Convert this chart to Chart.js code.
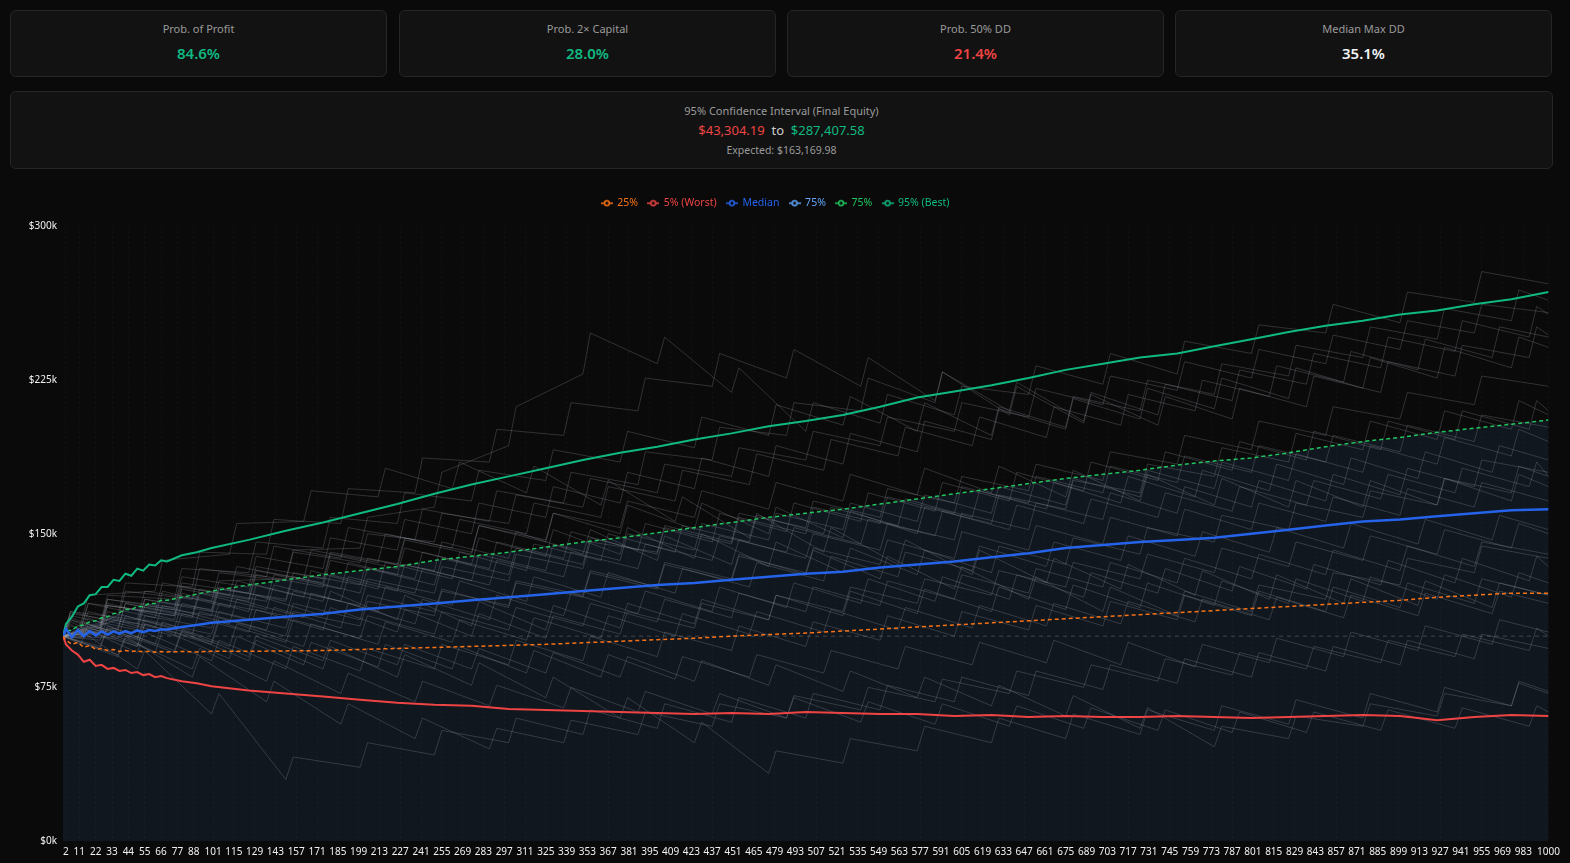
<!DOCTYPE html>
<html>
<head>
<meta charset="utf-8">
<script src="https://cdn.jsdelivr.net/npm/chart.js@4.4.1/dist/chart.umd.min.js"></script>
<style>
  html, body { margin: 0; padding: 0; background: #0a0a0a; width: 1570px; height: 863px; overflow: hidden; font-family: "Noto Sans", "DejaVu Sans", sans-serif; }
  .card { position: absolute; top: 10px; width: 375px; height: 65px; background: #121212; border: 1px solid #262626; border-radius: 6px; text-align: center; }
  .card .t { position: absolute; left: 0; right: 0; top: 10px; font-size: 11px; color: #9a9a9a; }
  .card .v { position: absolute; left: 0; right: 0; top: 32px; font-size: 15px; font-weight: 600; }
  .ci { position: absolute; left: 10px; top: 91px; width: 1541px; height: 76px; background: #121212; border: 1px solid #262626; border-radius: 6px; text-align: center; }
  .ci .t { position: absolute; left: 0; right: 0; top: 11px; font-size: 11px; color: #9a9a9a; }
  .ci .r { position: absolute; left: 0; right: 0; top: 29px; font-size: 13px; color: #cfcfcf; }
  .ci .e { position: absolute; left: 0; right: 0; top: 51px; font-size: 10.5px; color: #9a9a9a; }
  .green { color: #10b981; } .red { color: #ef4444; } .white { color: #f3f4f6; }
  #box { position: absolute; left: 10px; top: 188px; width: 1555px; height: 675px; }
</style>
</head>
<body>
<div class="card" style="left:10px"><div class="t">Prob. of Profit</div><div class="v green">84.6%</div></div>
<div class="card" style="left:399px"><div class="t">Prob. 2× Capital</div><div class="v green">28.0%</div></div>
<div class="card" style="left:787px"><div class="t">Prob. 50% DD</div><div class="v red">21.4%</div></div>
<div class="card" style="left:1175px"><div class="t">Median Max DD</div><div class="v white">35.1%</div></div>
<div class="ci">
  <div class="t">95% Confidence Interval (Final Equity)</div>
  <div class="r"><span class="red">$43,304.19</span>&nbsp; to &nbsp;<span class="green">$287,407.58</span></div>
  <div class="e">Expected: $163,169.98</div>
</div>
<div id="box"><canvas id="mc"></canvas></div>
<script>
// trade index ticks shown on the x axis
const xTicks = [2,11,22,33,44,55,66,77,88,101,115,129,143,157,171,185,199,213,227,241,255,269,283,297,311,325,339,353,367,381,395,409,423,437,451,465,479,493,507,521,535,549,563,577,591,605,619,633,647,661,675,689,703,717,731,745,759,773,787,801,815,829,843,857,871,885,899,913,927,941,955,969,983,1000];

// percentile bands (equity in $k)
const qX = [0,2,6,10,14,18,22,26,30,34,38,42,46,50,54,58,62,66,70,80,90,100,
  125,150,175,200,225,250,275,300,325,350,375,400,425,450,475,500,525,550,575,600,625,650,675,700,725,750,775,800,825,850,875,900,925,950,975,1000];
const p95 = [100,106,109.5,114.5,116,120,120.5,124,124,127.5,127,130.5,129.5,133,132,135,134.5,137,136.5,139.5,141,143,
  147,151.5,155.5,160,164.5,169.5,174,178,182,186,189.5,192.5,196,199,202.5,205,208,212,216.5,219.5,222.5,226,230,233,236,238,241.5,245,248.5,251.5,254,257,259,262,264.5,268];
const p75 = [100,102.5,103,105,105.5,107,107.5,109,109.5,111,111.5,113,113,114.5,114.5,116,116,117.5,117.5,119,120.5,122,
  125,127.5,130,132,134,137,139,141,143.5,146,148,150.5,153,155.5,158,160,162,164.5,167,169.5,172,174.5,177,179,181,183.5,185.5,187,189.5,192.5,195,197,199.5,201.5,203.5,205.5];
const p50 = [100,103.5,99.5,103,100,102.5,100.3,102.3,100.8,102.3,101.2,102.5,101.5,102.8,102,103,102.5,103.3,103.3,104.5,105.5,106.5,
  108,109.5,111,113,114.5,116,117.5,119,120.5,122,123.5,125,126,127.5,129,130.5,131.5,133.5,135,136.5,138.5,140.5,143,144.5,146,147,148,150,152,154,156,157,158.5,160,161.5,162];
const p25 = [100,98,96,97,94.5,95.5,93.5,94,93,93.5,92.5,93,92.5,92.8,92.3,92.6,92.2,92.5,92.3,92.5,92.3,92.6,
  92.6,92.8,93,93.5,94,94.5,95,95.5,96,96.8,97.5,98.3,99,100,100.8,101.5,102.5,103.5,104.5,105.5,106.5,107.5,108.5,109.5,110.5,111.5,112.5,113.5,114.5,115.5,116.5,117.5,119,120,121,121];
const p5 = [100,96,93,91,87.5,88.5,85.5,86,84,84.5,83,83.5,82,82.5,81,81.5,80,80.5,79.5,78,77,75.5,
  73.5,72,70.5,69,67.5,66.5,66,64.5,64,63.5,63,62.5,62,62.5,62,63,62.5,62,62,61,61.5,60.5,61,60.5,60.5,61,60.5,60,60.5,61,61.5,61,59,60.5,61.5,61];

const startCapital = 100;

// sample simulation paths (equity in $k), four offset step grids
const gridA = [0,5,50,55,100,105,150,155,200,205,250,255,300,305,350,355,400,405,450,455,500,505,550,555,600,605,650,655,700,705,750,755,800,805,850,855,900,905,950,955,1000];
const gridB = [0,25,30,75,80,125,130,175,180,225,230,275,280,325,330,375,380,425,430,475,480,525,530,575,580,625,630,675,680,725,730,775,780,825,830,875,880,925,930,975,980,1000];
const gridC = [0,12,17,62,67,112,117,162,167,212,217,262,267,312,317,362,367,412,417,462,467,512,517,562,567,612,617,662,667,712,717,762,767,812,817,862,867,912,917,962,967,1000];
const gridD = [0,37,42,87,92,137,142,187,192,237,242,287,292,337,342,387,392,437,442,487,492,537,542,587,592,637,642,687,692,737,742,787,792,837,842,887,892,937,942,987,992,1000];

const pathA1 = [100,112,104,118,113,127,128,142,143,158,163,180,193,212,228,248,233,246,219,231,200,214,204,218,208,222,218,232,223,238,228,244,238,252,248,262,253,268,263,278,272];
const pathA2 = [100,108,99,110,104,116,110,122,115,128,121,134,127,140,133,146,141,154,146,160,153,166,158,172,165,178,171,184,176,190,184,198,191,205,198,212,206,219,213,227,222];
const pathA3 = [100,109,98,108,101,112,104,116,108,120,112,123,114,126,119,131,123,135,127,139,131,143,135,147,138,151,142,154,145,158,149,162,152,165,156,168,159,172,163,175,166];
const pathA4 = [100,107,92,102,88,98,84,95,83,94,84,96,86,98,88,100,90,102,93,105,95,107,98,110,100,112,103,115,105,117,108,120,110,122,112,124,114,126,116,128,120];
const pathA5 = [100,106,84,93,62,72,30,41,36,48,42,54,48,60,52,64,55,67,58,70,60,72,64,76,68,80,71,83,74,86,77,89,80,92,83,95,86,98,89,101,94];
const pathA6 = [100,112,108,122,117,131,127,141,136,150,146,160,155,169,163,177,170,184,178,192,186,200,193,207,200,214,207,221,213,227,220,234,226,240,233,247,240,254,248,262,258];
const pathA7 = [100,108,95,106,97,109,100,112,105,117,110,122,115,127,120,132,124,136,128,140,130,142,128,139,123,134,118,129,112,124,110,122,112,125,118,131,125,138,131,144,138];
const pathA8 = [100,110,103,115,110,123,118,131,125,138,132,146,138,151,140,152,137,149,135,147,138,150,142,155,147,160,152,165,157,170,160,173,163,176,166,179,169,182,173,186,180];
const pathA9 = [100,111,106,118,112,124,117,129,121,133,125,138,130,143,135,148,140,153,145,158,150,163,155,168,160,173,165,178,170,183,175,188,180,193,185,198,190,203,195,208,202];
const pathA10 = [100,105,95,106,96,107,97,108,99,110,101,112,103,114,105,116,107,118,109,121,112,124,115,127,118,130,121,133,124,136,126,138,128,140,130,142,132,144,134,146,140];
const pathB1 = [100,102,115,110,124,118,132,126,140,133,147,140,154,146,160,150,164,152,165,150,163,148,161,150,163,155,169,162,176,170,184,178,192,185,199,191,205,196,210,201,215,208];
const pathB2 = [100,94,104,92,102,88,98,84,95,80,91,76,87,70,80,60,70,48,58,33,44,38,50,44,56,48,60,50,62,52,64,54,66,57,69,60,72,63,75,66,78,73];
const pathB3 = [100,104,116,108,121,112,125,117,130,122,135,127,140,132,145,137,150,142,155,147,160,152,165,156,169,160,173,164,177,168,181,172,185,176,189,180,193,184,197,188,201,195];
const pathB4 = [100,98,109,100,111,102,113,103,114,102,113,100,111,99,110,101,112,104,116,108,120,112,124,116,128,120,132,124,136,128,140,131,143,134,146,137,149,140,152,143,155,150];
const pathB5 = [100,103,115,110,123,117,130,124,137,130,143,135,148,139,152,140,153,138,150,134,146,131,143,130,142,131,144,135,148,140,153,146,159,152,165,158,171,164,177,170,183,178];
const pathB6 = [100,95,105,93,103,90,100,88,98,86,96,84,94,82,92,80,90,78,88,76,86,73,83,70,80,66,76,61,71,55,65,46,56,50,61,56,67,61,72,66,77,72];
const pathB7 = [100,106,120,118,133,131,146,143,158,155,170,166,181,176,191,185,200,192,207,198,213,203,217,200,214,198,212,202,217,210,225,218,233,227,242,236,251,245,260,254,269,264];
const pathB8 = [100,101,112,104,116,108,120,110,122,108,120,105,117,103,115,104,116,106,118,108,120,110,122,111,123,112,124,113,125,114,126,115,127,116,128,117,129,118,130,119,131,126];
const pathB9 = [100,105,118,113,126,121,134,128,141,135,148,141,154,147,160,153,166,158,171,162,175,166,179,169,182,170,183,168,181,166,179,164,177,163,176,163,176,164,177,166,179,173];
const pathB10 = [100,104,118,114,129,124,139,133,148,142,157,150,165,158,173,165,180,172,187,178,193,184,199,190,205,196,211,201,216,206,221,211,226,216,231,221,236,226,241,231,246,241];
const pathC1 = [100,103,116,112,126,120,134,128,142,136,150,143,157,150,165,158,173,166,181,174,189,181,196,188,202,193,207,197,212,203,218,210,225,217,232,224,239,230,245,236,251,246];
const pathC2 = [100,96,106,92,103,89,100,86,97,85,96,84,95,82,93,80,91,79,90,80,91,82,93,84,95,86,97,87,98,86,97,85,96,87,99,90,102,93,105,96,108,102];
const pathC3 = [100,101,112,104,115,106,118,109,121,112,124,115,127,117,129,119,131,121,133,124,136,127,139,129,141,132,144,134,146,137,149,139,151,141,153,143,155,145,157,147,159,152];
const pathC4 = [100,106,120,122,137,140,155,156,171,168,182,172,185,170,183,164,176,156,168,148,160,141,153,135,147,130,142,126,138,123,135,120,132,118,130,116,128,115,127,114,126,120];
const pathC5 = [100,104,116,109,122,114,127,119,132,123,136,128,141,132,145,137,150,141,154,146,159,150,163,154,167,158,171,162,175,165,178,168,181,171,184,174,187,177,190,180,193,186];
const pathC6 = [100,99,109,96,107,95,106,95,106,96,107,97,108,98,109,99,110,100,111,101,112,102,113,103,114,104,115,105,116,106,117,107,118,108,119,109,120,110,121,111,122,116];
const pathD1 = [100,108,122,118,133,129,144,138,153,147,162,156,171,165,180,174,190,186,202,198,214,210,226,214,229,210,224,205,219,208,223,215,230,223,238,231,246,239,254,246,261,257];
const pathD2 = [100,90,99,84,94,78,88,72,82,68,78,66,76,65,75,63,73,62,72,60,70,58,68,57,67,56,66,55,65,54,64,53,63,53,63,54,64,55,65,56,66,63];
const pathD3 = [100,99,110,101,112,103,114,104,116,106,118,108,120,110,121,111,122,112,124,114,126,116,128,117,129,118,130,119,131,121,133,122,134,123,135,125,137,126,138,127,139,134];
const pathD4 = [100,103,116,110,123,117,130,123,136,128,141,133,146,138,151,142,155,146,160,151,165,156,170,161,175,166,180,171,185,176,190,181,195,186,200,191,205,196,210,201,215,210];
const pathD5 = [100,91,100,80,90,68,78,57,67,50,60,45,55,48,59,52,63,56,67,60,71,64,75,68,79,72,83,75,86,78,89,81,92,84,95,87,98,90,101,93,104,100];
const pathD6 = [100,104,116,109,121,113,125,117,129,121,133,125,137,129,141,133,145,137,149,141,153,145,157,149,161,152,164,155,167,158,170,161,173,164,176,167,179,170,182,173,185,178];
const pathD7 = [100,110,126,124,141,140,157,155,172,170,187,185,201,198,214,210,226,222,238,226,240,222,236,215,229,208,222,204,218,203,217,206,221,212,227,219,234,227,242,236,251,247];

const pathGroups = [
  [gridA, [pathA1, pathA2, pathA3, pathA4, pathA5, pathA6, pathA7, pathA8, pathA9, pathA10]],
  [gridB, [pathB1, pathB2, pathB3, pathB4, pathB5, pathB6, pathB7, pathB8, pathB9, pathB10]],
  [gridC, [pathC1, pathC2, pathC3, pathC4, pathC5, pathC6]],
  [gridD, [pathD1, pathD2, pathD3, pathD4, pathD5, pathD6, pathD7]]
];

const toPts = (xs, ys) => xs.map((x, i) => ({ x: x, y: ys[i] }));

function legendIcon(color) {
  const c = document.createElement('canvas');
  c.width = 12; c.height = 8;
  const g = c.getContext('2d');
  g.strokeStyle = color; g.lineWidth = 1.5;
  g.beginPath(); g.moveTo(0, 4); g.lineTo(3.5, 4); g.moveTo(8.5, 4); g.lineTo(12, 4); g.stroke();
  g.beginPath(); g.arc(6, 4, 2.4, 0, Math.PI * 2); g.stroke();
  return c;
}

const datasets = [
  { label: '25%', data: toPts(qX, p25), borderColor: '#f97316', borderWidth: 1.5, borderDash: [4, 3], fill: false },
  { label: '5% (Worst)', data: toPts(qX, p5), borderColor: '#ef4444', borderWidth: 2, fill: false },
  { label: 'Median', data: toPts(qX, p50), borderColor: '#2563eb', borderWidth: 2.5, fill: false },
  { label: '75%', data: toPts(qX, p75), borderColor: 'transparent', borderWidth: 1, backgroundColor: 'rgba(96,165,250,0.085)', fill: 'origin', legendColor: '#60a5fa' },
  { label: '75%', data: toPts(qX, p75), borderColor: '#22c55e', borderWidth: 1.5, borderDash: [4, 3], fill: false },
  { label: '95% (Best)', data: toPts(qX, p95), borderColor: '#10b981', borderWidth: 2, fill: false },
  { label: '', data: [{ x: 0, y: startCapital }, { x: 1000, y: startCapital }], borderColor: 'rgba(200,200,200,0.28)', borderWidth: 1, borderDash: [4, 4], fill: false }
];
pathGroups.forEach(([grid, paths]) => paths.forEach(p => datasets.push({
  label: '', data: toPts(grid, p), borderColor: 'rgba(170,176,188,0.24)', borderWidth: 1, fill: false
})));

// a little extra room under the legend, and nudge it left like the original
const legendGap = {
  id: 'legendGap',
  beforeInit(chart) {
    const fit = chart.legend.fit;
    chart.legend.fit = function () { fit.call(this); this.height += 8; };
  },
  afterLayout(chart) {
    chart.legend.left -= 12;
    chart.legend.right -= 12;
  }
};

new Chart(document.getElementById('mc'), {
  type: 'line',
  data: { datasets: datasets },
  plugins: [legendGap],
  options: {
    responsive: true,
    maintainAspectRatio: false,
    animation: false,
    elements: { point: { radius: 0 }, line: { tension: 0 } },
    layout: { padding: 0 },
    plugins: {
      tooltip: { enabled: false },
      filler: { drawTime: 'beforeDatasetsDraw' },
      legend: {
        position: 'top',
        labels: {
          usePointStyle: true,
          boxWidth: 12,
          padding: 10,
          font: { family: 'Noto Sans', size: 10.5 },
          generateLabels: chart => chart.data.datasets.slice(0, 6).map((ds, i) => {
            const col = ds.legendColor || ds.borderColor;
            return { text: ds.label, fontColor: col, pointStyle: legendIcon(col), datasetIndex: i, hidden: false, lineWidth: 0, strokeStyle: 'transparent', fillStyle: 'transparent' };
          })
        }
      }
    },
    scales: {
      x: {
        type: 'linear',
        min: 0,
        max: 1000,
        afterBuildTicks: axis => { axis.ticks = xTicks.map(v => ({ value: v })); },
        ticks: { autoSkip: false, maxRotation: 0, color: '#f1f1f1', padding: 5, font: { family: 'Noto Sans', size: 10 }, callback: v => String(v) },
        grid: { color: 'rgba(255,255,255,0.045)', drawTicks: false },
        border: { display: false, dash: [2, 3] }
      },
      y: {
        min: 0,
        max: 300,
        afterFit: s => { s.width = 53; },
        ticks: { stepSize: 75, color: '#f1f1f1', padding: 6, font: { family: 'Noto Sans', size: 10 }, callback: v => '$' + v + 'k' },
        grid: { display: false, drawTicks: false },
        border: { display: false }
      }
    }
  }
});
</script>
</body>
</html>
